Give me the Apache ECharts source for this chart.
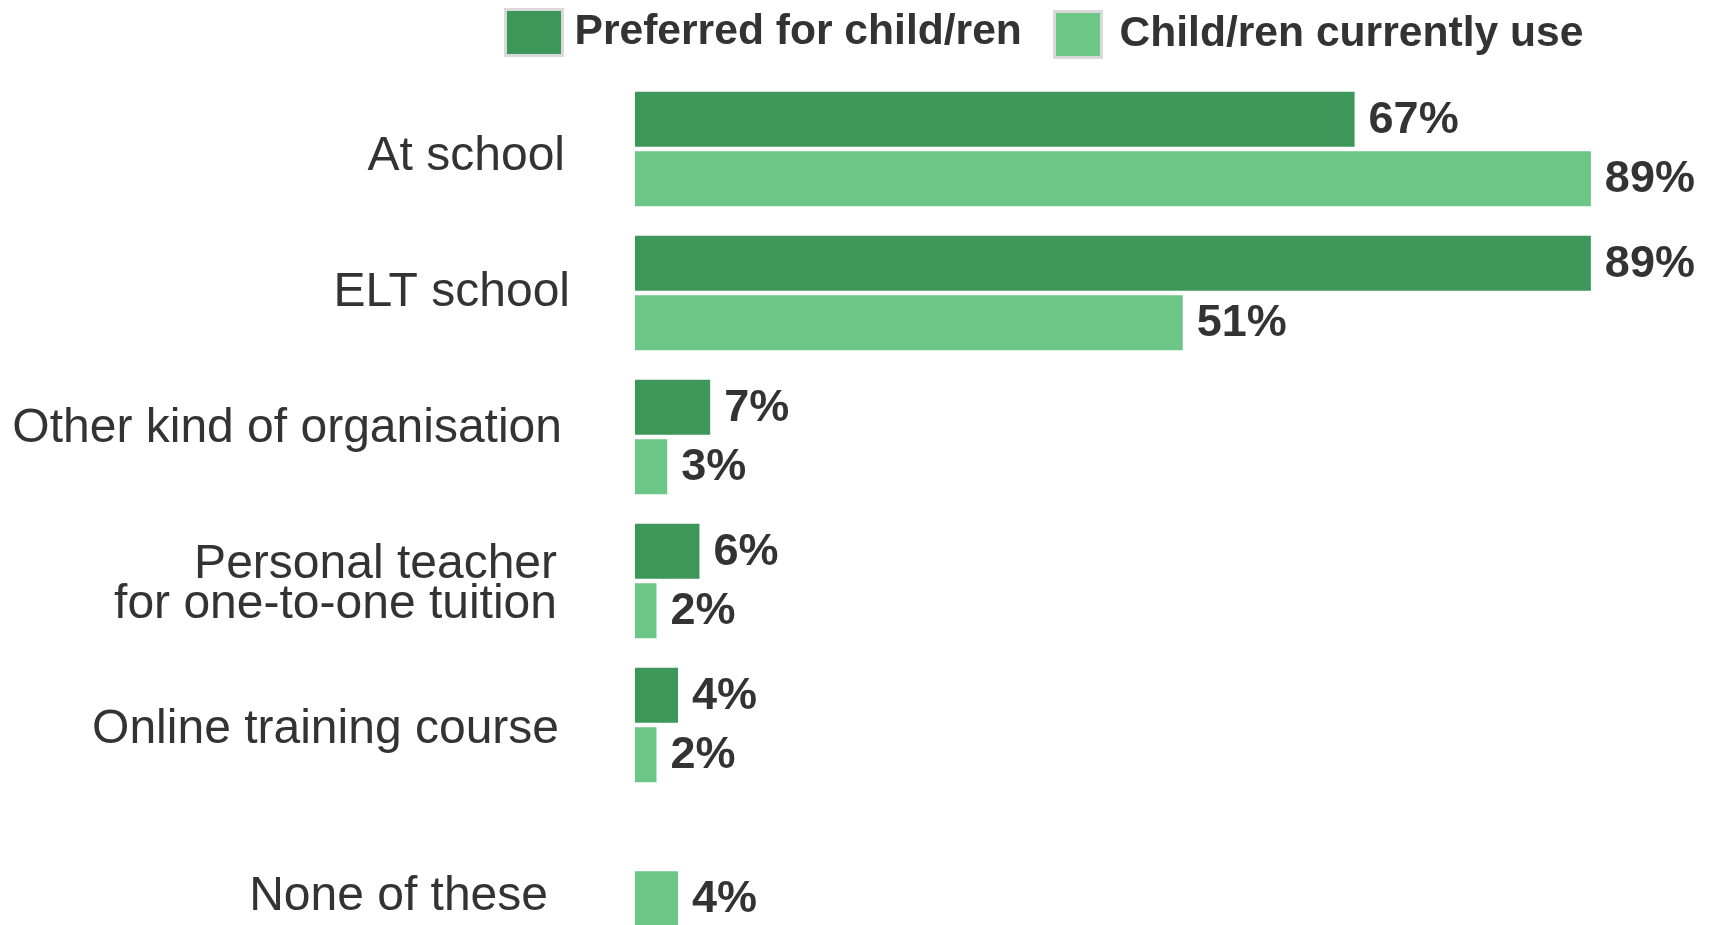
<!DOCTYPE html>
<html>
<head>
<meta charset="utf-8">
<script src="https://cdn.jsdelivr.net/npm/echarts@6/dist/echarts.min.js"></script>
<style>
  html, body { margin: 0; padding: 0; background: #ffffff; }
  #chart { width: 1712px; height: 925px; }
</style>
</head>
<body>
<div id="chart"></div>
<script>
// ---- data ----
const categories = [
  'At school',
  'ELT school',
  'Other kind of organisation',
  'Personal teacher\nfor one-to-one tuition',
  'Online training course',
  'None of these'
];
const seriesNames = ['Preferred for child/ren', 'Child/ren currently use'];
const preferred = [67, 89, 7, 6, 4, null];
const currentlyUse = [89, 51, 3, 2, 2, 4];

// ---- look ----
const FONT = '"Liberation Sans", Arial, Helvetica, sans-serif';
const TEXT = '#333333';
const DARK = '#3c9758';
const LIGHT = '#6cc686';

// per-label nudges for the category names: [inset from the right, shift down]
const labelNudge = [[5, 8], [0, 0], [8, -8], [13, 4], [11, 5], [22, 28]];

const rich = {};
labelNudge.forEach(([inset, down], i) => {
  rich['c' + i] = {
    fontFamily: FONT,
    fontSize: 48,
    color: TEXT,
    lineHeight: i === 3 ? 40 : 54,
    padding: [down > 0 ? 2 * down : 0, inset, down < 0 ? -2 * down : 0, 0]
  };
});

const chart = echarts.init(document.getElementById('chart'), null, { renderer: 'canvas' });

const valueLabel = {
  show: true,
  position: 'right',
  distance: 14,
  offset: [0, 1],
  fontFamily: FONT,
  fontSize: 45,
  fontWeight: 'bold',
  color: TEXT,
  formatter: p => p.value + '%'
};

const legendBase = {
  orient: 'horizontal',
  padding: 0,
  top: 8,
  icon: 'rect',
  itemHeight: 46,
  selectedMode: false,
  itemStyle: { borderColor: '#d9d9d9', borderWidth: 3 },
  textStyle: { fontFamily: FONT, fontSize: 42.6, fontWeight: 'bold', color: TEXT }
};

chart.setOption({
  backgroundColor: '#ffffff',
  animation: false,
  legend: [
    Object.assign({}, legendBase, {
      left: 504,
      itemWidth: 57,
      data: [seriesNames[0]],
      textStyle: Object.assign({}, legendBase.textStyle, { padding: [0, 0, 0, 7] })
    }),
    Object.assign({}, legendBase, {
      left: 1053,
      top: 10,
      itemWidth: 47,
      data: [seriesNames[1]],
      textStyle: Object.assign({}, legendBase.textStyle, { padding: [0, 0, 0, 13] })
    })
  ],
  grid: { left: 635, right: 3, top: 77, height: 864, outerBoundsMode: 'none', containLabel: false },
  xAxis: {
    type: 'value',
    min: 0,
    max: 100,
    show: false
  },
  yAxis: {
    type: 'category',
    inverse: true,
    data: categories,
    axisLine: { show: false },
    axisTick: { show: false },
    splitLine: { show: false },
    axisLabel: {
      interval: 0,
      margin: 65,
      align: 'right',
      formatter: (value, index) => '{c' + index + '|' + value + '}',
      rich: rich
    }
  },
  series: [
    {
      name: seriesNames[0],
      type: 'bar',
      data: preferred,
      barWidth: 55,
      barGap: '8.5%',
      itemStyle: { color: DARK },
      label: valueLabel,
      emphasis: { disabled: true }
    },
    {
      name: seriesNames[1],
      type: 'bar',
      data: currentlyUse,
      barWidth: 55,
      barGap: '8.5%',
      itemStyle: { color: LIGHT },
      label: valueLabel,
      emphasis: { disabled: true }
    }
  ]
});
</script>
</body>
</html>
